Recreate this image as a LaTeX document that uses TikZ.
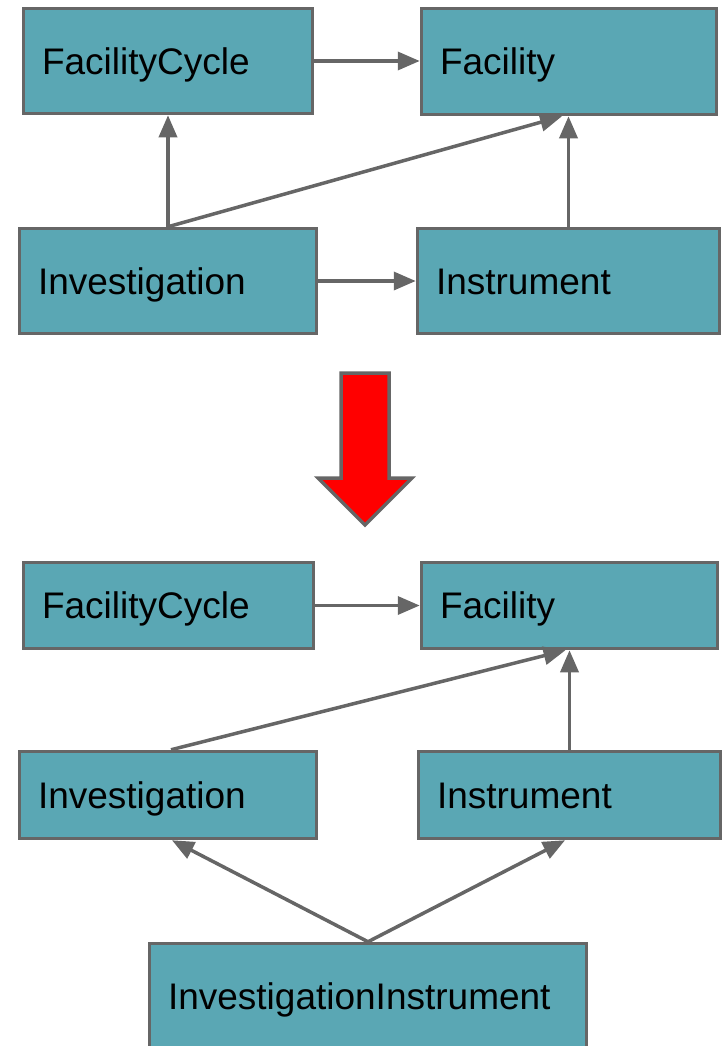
\documentclass[tikz,border=0pt]{standalone}
\usepackage{fontspec}
\setmainfont{Liberation Sans}
\usetikzlibrary{arrows.meta,calc}
\definecolor{boxfill}{HTML}{5AA7B4}
\definecolor{edge}{HTML}{666666}
\begin{document}
\begin{tikzpicture}[x=1pt,y=-1pt,
  box/.style={draw=edge, fill=boxfill, line width=3.5pt, rectangle, inner xsep=0pt, inner ysep=0pt,
    font=\fontsize{37}{44}\selectfont, text height=26.5pt, text depth=0pt, align=left},
  conn/.style={draw=edge, line width=3.5pt, -{Triangle[length=22pt,width=18pt]}},
  bigarrow/.style={draw=edge, fill=red, line width=3.5pt, line join=miter}
]
\useasboundingbox (0,0) rectangle (724,1046);
% top diagram
\node[box, minimum width=289pt, minimum height=105pt, text width=252pt] (fc) at (168,61) {FacilityCycle};
\node[box, minimum width=295pt, minimum height=106pt, text width=258pt] (fac) at (569,61.5) {Facility};
\node[box, minimum width=297pt, minimum height=105pt, text width=260pt] (inv) at (168,281) {Investigation};
\node[box, minimum width=302pt, minimum height=105pt, text width=265pt] (ins) at (568.5,281) {Instrument};
\draw[conn] (fc.east) -- (fc.east -| fac.west);
\draw[conn] (inv.north) -- (fc.south);
\draw[conn] (inv.north) -- ([xshift=-7pt]fac.south);
\draw[conn] (ins.north) -- (ins.north |- fac.south);
\draw[conn] (inv.east) -- (ins.west);
% big red arrow
\draw[bigarrow] (341,373) -- (389,373) -- (389,478) -- (412,478) -- (365,525) -- (318,478) -- (341,478) -- cycle;
% bottom diagram
\node[box, minimum width=290pt, minimum height=86pt, text width=253pt] (fc2) at (168.5,605.5) {FacilityCycle};
\node[box, minimum width=296pt, minimum height=86pt, text width=259pt] (fac2) at (569.5,605.5) {Facility};
\node[box, minimum width=297pt, minimum height=87pt, text width=260pt] (inv2) at (168,795) {Investigation};
\node[box, minimum width=302pt, minimum height=87pt, text width=265pt] (ins2) at (569.5,795) {Instrument};
\node[box, minimum width=437pt, minimum height=105pt, text width=400pt] (ii) at (368,996) {InvestigationInstrument};
\draw[conn] (fc2.east) -- (fc2.east -| fac2.west);
\draw[conn] ([xshift=3pt]inv2.north) -- ([xshift=-4pt]fac2.south);
\draw[conn] (ins2.north) -- (fac2.south -| ins2.north);
\draw[conn] (ii.north) -- ([xshift=4pt]inv2.south);
\draw[conn] (ii.north) -- ([xshift=-4.5pt]ins2.south);
\end{tikzpicture}
\end{document}
